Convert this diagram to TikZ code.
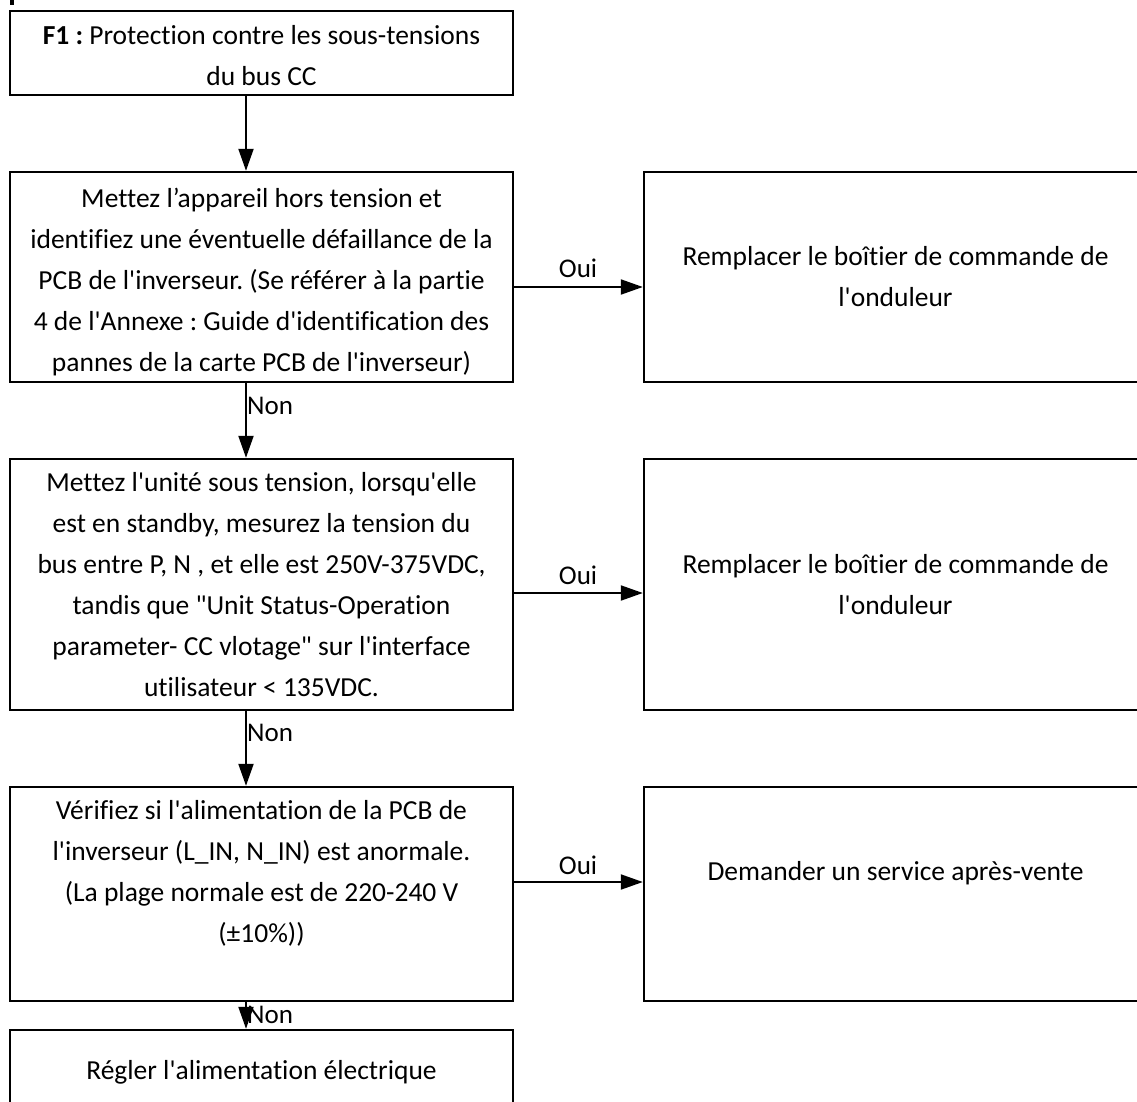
\documentclass[tikz,border=0pt]{standalone}
\usepackage{fontspec}
\newfontfamily\carlito[Ligatures=CommonOff]{Carlito}
\usetikzlibrary{arrows.meta}
\begin{document}
\frenchspacing
\begin{tikzpicture}[x=1pt,y=-1pt,
  txt/.style={align=center,inner sep=0pt,
    font=\carlito\fontsize{27.5}{41}\selectfont\frenchspacing},
  box/.style={txt,draw,line width=2.4pt,minimum width=503pt},
  lbl/.style={inner sep=0pt,font=\carlito\fontsize{27}{30}\selectfont},
  link/.style={line width=2pt,-{Triangle[length=22pt,width=15pt]}}]
\useasboundingbox (0,0) rectangle (1137,1102);
\clip (0,0) rectangle (1137,1102);
\fill (10,0) rectangle (14,5);

% left column of checks
\node[box,minimum height=84pt] (b1) at (261.5,53) {};
\node[txt] (t1) at (261.5,56)
  {\textbf{F1 :} Protection contre les sous-tensions\\du bus CC};
\node[box,minimum height=210pt] (b2) at (261.5,277) {};
\node[txt] (t2) at (261.5,282)
  {Mettez l’appareil hors tension et\\identifiez une éventuelle défaillance de la\\PCB de l'inverseur. (Se référer à la partie\\4 de l'Annexe : Guide d'identification des\\pannes de la carte PCB de l'inverseur)};
\node[box,minimum height=251pt] (b3) at (261.5,584.5)
  {Mettez l'unité sous tension, lorsqu'elle\\est en standby, mesurez la tension du\\bus entre P, N , et elle est 250V-375VDC,\\tandis que "Unit Status-Operation\\parameter- CC vlotage" sur l'interface\\utilisateur < 135VDC.};
\node[box,minimum height=214pt] (b4) at (261.5,894) {};
\node[txt] (t4) at (261.5,873)
  {Vérifiez si l'alimentation de la PCB de\\l'inverseur (L\_IN, N\_IN) est anormale.\\(La plage normale est de 220-240 V\\(±10\%))};
\node[box,minimum height=84pt] (b5) at (261.5,1072)
  {Régler l'alimentation électrique};

% right column of actions
\node[box,minimum height=210pt] (r1) at (895.5,277)
  {Remplacer le boîtier de commande de\\l'onduleur};
\node[box,minimum height=251pt] (r2) at (895.5,584.5)
  {Remplacer le boîtier de commande de\\l'onduleur};
\node[box,minimum height=214pt] (r3) at (895.5,894) {};
\node[txt] (tr3) at (895.5,873) {Demander un service après-vente};

% vertical flow
\coordinate (col) at (246,0);
\draw[link] (b1.south -| col) -- (b2.north -| col);
\draw[link] (b2.south -| col) -- (b3.north -| col);
\draw[link] (b3.south -| col) -- (b4.north -| col);
\draw[link] (b4.south -| col) -- (b5.north -| col);

% "Oui" branches
\coordinate (y1) at (0,287);
\coordinate (y2) at (0,593);
\coordinate (y3) at (0,882);
\draw[link] (b2.east |- y1) -- (r1.west |- y1);
\draw[link] (b3.east |- y2) -- (r2.west |- y2);
\draw[link] (b4.east |- y3) -- (r3.west |- y3);

\node[lbl] (o1) at (578,268) {Oui};
\node[lbl] (o2) at (578,575) {Oui};
\node[lbl] (o3) at (578,865) {Oui};
\node[lbl,anchor=west] (n1) at (247,406) {Non};
\node[lbl,anchor=west] (n2) at (247,733) {Non};
\node[lbl,anchor=west] (n3) at (247,1015) {Non};
\end{tikzpicture}
\end{document}
